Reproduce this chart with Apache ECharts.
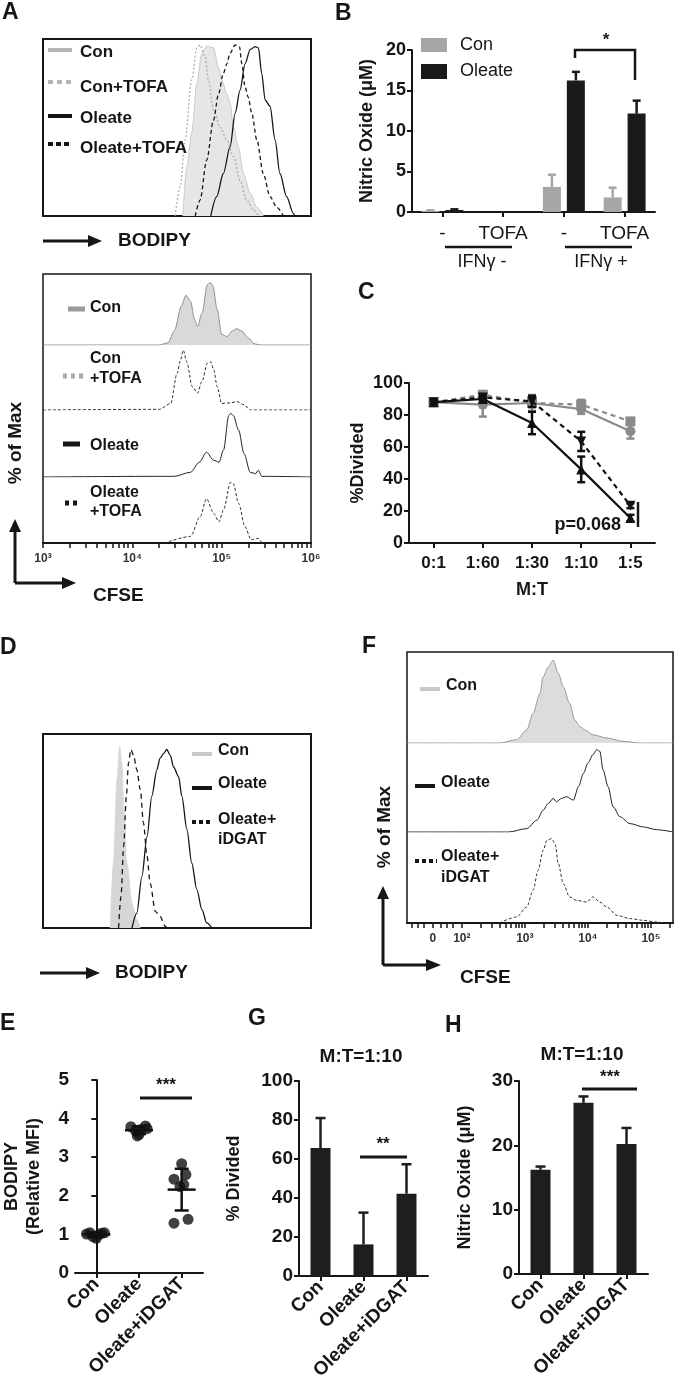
<!DOCTYPE html>
<html>
<head>
<meta charset="utf-8">
<script src="https://cdn.jsdelivr.net/npm/echarts@6/dist/echarts.min.js"></script>
<style>
html, body { margin: 0; padding: 0; background: #fff; }
#chart { width: 675px; height: 1395px; }
</style>
</head>
<body>
<div id="chart"></div>
<script>
// ---------- data ----------
// A (top): BODIPY histograms, [channel 0-100, % of max]
var bodipyA_con = [[52.2,0],[53.7,28],[55.5,47],[57.4,75],[59.3,92],[61.1,96],[63.6,95],[65.5,84],[66.7,77],[68.6,69],[69.8,64],[71.1,50],[72.9,39],[74.8,24],[77.3,13],[79.8,5],[82.2,0]];
var bodipyA_conTofa = [[49.3,0],[51.2,16.6],[53.0,43],[55.5,77],[57.4,95],[58.6,96.6],[60.5,90],[61.7,77],[63.6,60],[66.1,50],[68.6,43],[71.1,33.5],[73.5,20],[76.0,9],[78.5,3.4],[80.4,0]];
var bodipyA_oleTofa = [[56.8,0],[58.6,9],[61.1,31.6],[63.6,54],[65.5,69],[67.3,80.6],[68.6,86],[69.8,92],[71.7,96.6],[73.3,95.7],[74.2,86],[75.4,73],[76.6,67],[77.9,58],[79.8,43],[82.2,24],[84.7,11],[87.2,5],[89.7,0]];
var bodipyA_oleate = [[62.6,0],[64.8,11],[67.3,24],[69.8,39],[71.7,58],[73.5,71],[75.4,86],[77.3,94],[79.1,95.7],[80.4,95],[81.6,80.6],[82.9,65.5],[84.7,62],[86.6,43],[88.4,24],[90.9,11],[93.4,1.5],[94.0,0]];

// A (bottom): CFSE histograms, [log10 CFSE, % of max]
var cfseA_con = [[3,0],[4.30,0],[4.40,3],[4.47,20],[4.55,55],[4.60,70],[4.65,62],[4.70,35],[4.73,26],[4.78,45],[4.84,85],[4.87,88],[4.90,84],[4.95,50],[5.00,15],[5.06,12],[5.12,20],[5.17,23],[5.22,20],[5.30,10],[5.36,2],[5.43,0],[6,0]];
var cfseA_conTofa = [[3,0],[4.30,1],[4.43,10],[4.50,56],[4.54,77],[4.57,92],[4.61,74],[4.67,36],[4.73,26],[4.78,44],[4.84,72],[4.88,74],[4.91,62],[4.95,36],[5.00,10],[5.10,11],[5.17,13],[5.25,8],[5.32,0],[6,0]];
var cfseA_oleate = [[3,0],[4.30,1],[4.47,1],[4.65,7],[4.75,22],[4.83,37],[4.91,25],[4.97,22],[5.02,40],[5.08,92],[5.10,95],[5.13,92],[5.19,70],[5.25,35],[5.32,7],[5.38,5],[5.41,10],[5.45,1],[6,0]];
var cfseA_oleTofa = [[4.41,2],[4.65,10],[4.76,40],[4.83,67],[4.91,45],[4.97,32],[5.02,50],[5.10,92],[5.13,90],[5.19,60],[5.26,25],[5.33,5],[5.41,7],[5.45,0]];
var cfseTicksA = [3, 4, 5, 6];
var cfseLabelsA = ['10³', '10⁴', '10⁵', '10⁶'];
var cfseMinorA = [3.30,3.48,3.60,3.70,3.78,3.85,3.90,3.95,4.30,4.48,4.60,4.70,4.78,4.85,4.90,4.95,5.30,5.48,5.60,5.70,5.78,5.85,5.90,5.95];

// B: nitric oxide
var bLabels = ['-', 'TOFA', '-', 'TOFA'];
var bCon = [0.15, 0, 3.1, 1.8];
var bConErr = [0.05, 0, 1.5, 1.2];
var bOleate = [0.25, 0, 16.25, 12.15];
var bOleateErr = [0.08, 0, 1.05, 1.6];

// C: % divided vs M:T
var cCats = ['0:1', '1:60', '1:30', '1:10', '1:5'];
var cCon = [88, 86.5, 87.5, 83.7, 69.8];
var cConErr = [1, 7.5, 2.5, 3, 4.5];
var cConTofa = [88, 92.7, 87.5, 86.5, 76];
var cConTofaErr = [1, 2, 5, 3, 2];
var cOleate = [88, 90, 75, 46, 15.6];
var cOleateErr = [1, 1, 7, 8, 2];
var cOleTofa = [88, 91, 88.5, 63.5, 23.3];
var cOleTofaErr = [1, 1, 3.5, 6, 1.5];

// D: BODIPY histograms
var bodipyD_con = [[25.1,0],[26.3,33.5],[27.6,76.5],[28.6,93.6],[29.4,85],[30.3,59],[31.3,33.5],[33.2,12.9],[35.0,4.3],[36.3,0]];
var bodipyD_oleDgat = [[28.2,0],[29.1,16.3],[30.1,42],[31.1,68],[31.9,85],[32.8,92],[33.8,89],[35.0,81.6],[36.3,71.3],[37.5,54],[38.8,37],[40.0,23],[41.9,8.6],[43.7,6],[45.6,0.9],[46.2,0]];
var bodipyD_oleate = [[33.2,0],[35.0,7.7],[36.9,26.6],[38.8,47],[40.6,68],[42.5,81.6],[43.7,87.6],[45.0,90],[46.2,92],[47.5,89],[48.7,83],[50.6,78],[51.8,68],[53.7,50.7],[55.5,33.5],[57.4,19.8],[59.3,9.5],[61.1,2.6],[63.0,0]];

// F: CFSE histograms (biexponential axis units)
var cfseF_con = [[1.13,0],[2.60,0],[2.87,3.6],[3.03,14.5],[3.13,32.7],[3.24,54.5],[3.29,72.7],[3.37,83.6],[3.45,91],[3.53,76.4],[3.61,61.8],[3.71,43.6],[3.79,25.5],[3.87,18.2],[3.95,14.5],[4.08,9],[4.30,5.5],[4.56,1.8],[4.83,0],[5.35,0]];
var cfseF_oleate = [[1.13,0],[2.74,0],[3.03,3.8],[3.19,13.2],[3.29,24.5],[3.37,32],[3.45,37.7],[3.50,34],[3.58,37.7],[3.66,39.6],[3.77,35.8],[3.85,51],[3.93,66],[4.00,77.4],[4.08,86.8],[4.14,92.5],[4.19,90.6],[4.24,69.8],[4.32,51],[4.40,28.3],[4.51,17],[4.67,9.4],[4.88,5.7],[5.09,2.6],[5.35,0]];
var cfseF_oleDgat = [[2.60,0],[2.87,6.6],[3.03,17.6],[3.13,35.9],[3.21,57.9],[3.29,79.9],[3.35,90.8],[3.42,92.7],[3.48,87.2],[3.53,65.2],[3.61,43.2],[3.71,28.6],[3.82,24.9],[3.98,23],[4.08,28.6],[4.19,23],[4.30,17.6],[4.46,8.4],[4.67,4.8],[4.88,2.9],[5.09,1.1],[5.2,0]];
var cfseTicksF = [1.54, 2, 3, 4, 5];
var cfseLabelsF = ['0', '10²', '10³', '10⁴', '10⁵'];
var cfseMinorF = [1.2,1.3,1.4,1.66,1.76,1.86,2.30,2.48,2.60,2.70,2.78,2.85,2.90,2.95,3.30,3.48,3.60,3.70,3.78,3.85,3.90,3.95,4.30,4.48,4.60,4.70,4.78,4.85,4.90,4.95,5.30];

// E: BODIPY relative MFI, individual points
var groupCats = ['Con', 'Oleate', 'Oleate+iDGAT'];
var eConJit = [-0.23, -0.15, -0.08, 0, 0.04, 0.12, 0.19];
var eConVals = [1.01, 1.04, 0.94, 0.9, 0.98, 1.03, 1.04];
var eOleJit = [-0.19, -0.08, 0, 0.04, 0.15, 0.19, -0.04];
var eOleVals = [3.79, 3.68, 3.59, 3.72, 3.81, 3.74, 3.55];
var eDgatJit = [0, 0.1, -0.18, -0.04, 0.05, -0.18, 0.15];
var eDgatVals = [2.83, 2.55, 2.43, 2.24, 2.29, 1.29, 1.39];
var eMean = [1.0, 3.7, 2.16];
var eSD = [0.05, 0.1, 0.54];

// G: % divided at M:T=1:10
var gMean = [65.6, 16.2, 42.2];
var gErr = [15.4, 16.3, 15.1];

// H: nitric oxide at M:T=1:10
var hMean = [16.2, 26.6, 20.2];
var hErr = [0.5, 1.0, 2.5];

// ---------- helpers ----------
var FONT = '"Liberation Sans", Arial, sans-serif';
var INK = '#161616';

function hidden(gi, min, max) {
    return { gridIndex: gi, type: 'value', min: min, max: max, show: false };
}

function valueY(gi, min, max, interval, name, gap, fs, nfs) {
    return {
        gridIndex: gi, type: 'value', min: min, max: max, interval: interval,
        name: name, nameLocation: 'middle', nameGap: gap,
        nameTextStyle: { fontFamily: FONT, fontWeight: 'bold', fontSize: nfs, color: INK, lineHeight: nfs + 4 },
        axisLine: { show: true, lineStyle: { color: INK, width: 2 } },
        axisTick: { show: true, length: 5, lineStyle: { color: INK, width: 2 } },
        axisLabel: { fontFamily: FONT, fontWeight: 'bold', fontSize: fs, color: INK, margin: 6 },
        splitLine: { show: false }
    };
}

function catX(gi, data, label) {
    return {
        gridIndex: gi, type: 'category', data: data, boundaryGap: true,
        axisLine: { show: true, lineStyle: { color: INK, width: 2 } },
        axisTick: { show: true, alignWithLabel: true, length: 5, lineStyle: { color: INK, width: 2 } },
        axisLabel: Object.assign({ interval: 0, fontFamily: FONT, color: INK }, label),
        splitLine: { show: false }
    };
}

function cfseX(gi, min, max, majors, minors, labels) {
    return {
        gridIndex: gi, type: 'value', min: min, max: max,
        axisLine: { show: true, lineStyle: { color: INK, width: 2 } },
        axisTick: { show: true, customValues: majors.concat(minors), length: 5, lineStyle: { color: INK, width: 1.5 } },
        axisLabel: {
            customValues: majors, margin: 10, fontFamily: FONT, fontWeight: 'bold', fontSize: 12, color: '#333',
            formatter: function (v) { return labels[majors.indexOf(v)]; }
        },
        splitLine: { show: false }
    };
}

function hist(gi, data, color, width, dash, fill) {
    var s = {
        type: 'line', xAxisIndex: gi, yAxisIndex: gi, data: data,
        symbol: 'none', smooth: 0.3, smoothMonotone: 'x', silent: true,
        lineStyle: { color: color, width: width, type: dash || 'solid' }
    };
    if (fill) s.areaStyle = { color: fill, opacity: 1 };
    return s;
}

function errBars(xi, yi, vals, errs, color, offset, capHalf, both) {
    return {
        type: 'custom', xAxisIndex: xi, yAxisIndex: yi, silent: true, z: 5,
        data: vals.map(function (v, i) { return [i, v, errs[i]]; }),
        renderItem: function (params, api) {
            var i = api.value(0), v = api.value(1), e = api.value(2);
            if (!e) return null;
            var top = api.coord([i, v + e]);
            var base = api.coord([i, both ? v - e : v]);
            var x = top[0] + offset;
            var st = { stroke: color, lineWidth: 2.5 };
            var ch = [
                { type: 'line', shape: { x1: x, y1: base[1], x2: x, y2: top[1] }, style: st },
                { type: 'line', shape: { x1: x - capHalf, y1: top[1], x2: x + capHalf, y2: top[1] }, style: st }
            ];
            if (both) ch.push({ type: 'line', shape: { x1: x - capHalf, y1: base[1], x2: x + capHalf, y2: base[1] }, style: st });
            return { type: 'group', children: ch };
        }
    };
}

function dots(jit, vals, idx) {
    return vals.map(function (v, i) { return [idx + jit[i], v]; });
}

function T(x, y, text, size, o) {
    o = o || {};
    return {
        type: 'text', x: x, y: y, rotation: o.rot || 0, z: 100,
        style: { text: text, fill: o.color || INK, font: (o.weight || 'bold') + ' ' + size + 'px ' + FONT, align: o.align || 'left', verticalAlign: 'middle' }
    };
}
function L(x1, y1, x2, y2, o) {
    o = o || {};
    return { type: 'line', z: 100, shape: { x1: x1, y1: y1, x2: x2, y2: y2 }, style: { stroke: o.color || INK, lineWidth: o.w || 2.5, lineDash: o.dash || null } };
}
function P(points) {
    return { type: 'polygon', z: 100, shape: { points: points }, style: { fill: INK } };
}

// ---------- option ----------
var catLabel = { rotate: 45, fontSize: 19, fontWeight: 'bold', margin: 8 };

var option = {
    animation: false,
    backgroundColor: '#fff',
    textStyle: { fontFamily: FONT },
    grid: [
        { left: 43, top: 39, width: 268, height: 177, show: true, borderColor: INK, borderWidth: 2 },    // 0 A top
        { left: 43, top: 274, width: 268, height: 269, show: true, borderColor: INK, borderWidth: 1.5 }, // 1 A cfse frame
        { left: 43, top: 274, width: 268, height: 71 },
        { left: 43, top: 345, width: 268, height: 65 },
        { left: 43, top: 410, width: 268, height: 67 },
        { left: 43, top: 477, width: 268, height: 66 },
        { left: 412, top: 50, width: 243, height: 162 },   // 6 B
        { left: 409, top: 383, width: 246, height: 160 },  // 7 C
        { left: 43, top: 734, width: 268, height: 194, show: true, borderColor: INK, borderWidth: 2 },   // 8 D
        { left: 407, top: 652, width: 266, height: 271, show: true, borderColor: INK, borderWidth: 1.5 }, // 9 F frame
        { left: 407, top: 652, width: 266, height: 91 },
        { left: 407, top: 743, width: 266, height: 89 },
        { left: 407, top: 832, width: 266, height: 91 },
        { left: 73, top: 1080, width: 130, height: 193 },  // 13 E
        { left: 299, top: 1081, width: 129, height: 195 }, // 14 G
        { left: 519, top: 1081, width: 129, height: 193 }  // 15 H
    ],
    xAxis: [
        hidden(0, 0, 100),
        cfseX(1, 3, 6, cfseTicksA, cfseMinorA, cfseLabelsA),
        hidden(2, 3, 6), hidden(3, 3, 6), hidden(4, 3, 6), hidden(5, 3, 6),
        (function () {
            var a = catX(6, ['0', '1', '2', '3'], { fontSize: 19, fontWeight: 'normal', margin: 12 });
            a.axisLabel.formatter = function (v, i) { return bLabels[i]; };
            return a;
        })(),
        Object.assign(catX(7, cCats, { fontSize: 17, fontWeight: 'bold', margin: 12 }), {
            name: 'M:T', nameLocation: 'middle', nameGap: 38,
            nameTextStyle: { fontFamily: FONT, fontWeight: 'bold', fontSize: 18, color: INK }
        }),
        hidden(8, 0, 100),
        cfseX(9, 1.13, 5.35, cfseTicksF, cfseMinorF, cfseLabelsF),
        hidden(10, 1.13, 5.35), hidden(11, 1.13, 5.35), hidden(12, 1.13, 5.35),
        catX(13, groupCats, catLabel),
        catX(14, groupCats, catLabel),
        catX(15, groupCats, catLabel),
        hidden(13, -0.5, 2.5) // 16: jitter axis for E points
    ],
    yAxis: [
        hidden(0, 0, 100),
        hidden(1, 0, 1),
        hidden(2, 0, 100), hidden(3, 0, 100), hidden(4, 0, 100), hidden(5, 0, 100),
        valueY(6, 0, 20, 5, 'Nitric Oxide (μM)', 34, 18, 18),
        valueY(7, 0, 100, 20, '%Divided', 35, 18, 18),
        hidden(8, 0, 100),
        hidden(9, 0, 1),
        hidden(10, 0, 100), hidden(11, 0, 100), hidden(12, 0, 100),
        valueY(13, 0, 5, 1, 'BODIPY\n(Relative MFI)', 30, 19, 18),
        valueY(14, 0, 100, 20, '% Divided', 54, 19, 18),
        valueY(15, 0, 30, 10, 'Nitric Oxide (μM)', 43, 19, 18)
    ],
    series: [
        // A top
        hist(0, bodipyA_con, '#c9c9c9', 1, 'solid', '#e6e6e6'),
        hist(0, bodipyA_conTofa, '#a8a8a8', 1.2, [2, 2]),
        hist(0, bodipyA_oleTofa, INK, 1.3, [4, 3]),
        hist(0, bodipyA_oleate, INK, 1.3),
        // A cfse rows
        hist(2, cfseA_con, '#8f8f8f', 1, 'solid', '#d9d9d9'),
        hist(3, cfseA_conTofa, '#333', 1, [3, 2]),
        hist(4, cfseA_oleate, '#222', 1),
        hist(5, cfseA_oleTofa, '#333', 1, [3, 2]),
        // B
        { type: 'bar', xAxisIndex: 6, yAxisIndex: 6, data: bCon, barWidth: 18, barGap: '33%', itemStyle: { color: '#a6a6a6' } },
        { type: 'bar', xAxisIndex: 6, yAxisIndex: 6, data: bOleate, barWidth: 18, barGap: '33%', itemStyle: { color: '#1a1a1a' } },
        errBars(6, 6, bCon, bConErr, '#a6a6a6', -12, 4, false),
        errBars(6, 6, bOleate, bOleateErr, '#1a1a1a', 12, 4, false),
        // C
        { type: 'line', xAxisIndex: 7, yAxisIndex: 7, data: cCon, symbol: 'circle', symbolSize: 10, itemStyle: { color: '#8a8a8a' }, lineStyle: { color: '#8a8a8a', width: 2.2 } },
        { type: 'line', xAxisIndex: 7, yAxisIndex: 7, data: cConTofa, symbol: 'rect', symbolSize: 10, itemStyle: { color: '#8a8a8a' }, lineStyle: { color: '#8a8a8a', width: 2.2, type: [5, 4] } },
        errBars(7, 7, cCon, cConErr, '#8a8a8a', 0, 4, true),
        errBars(7, 7, cConTofa, cConTofaErr, '#8a8a8a', 0, 4, true),
        { type: 'line', xAxisIndex: 7, yAxisIndex: 7, data: cOleate, symbol: 'triangle', symbolSize: 10, itemStyle: { color: '#111' }, lineStyle: { color: '#111', width: 2.2 }, z: 6 },
        { type: 'line', xAxisIndex: 7, yAxisIndex: 7, data: cOleTofa, symbol: 'triangle', symbolRotate: 180, symbolSize: 10, itemStyle: { color: '#111' }, lineStyle: { color: '#111', width: 2.2, type: [5, 4] }, z: 6 },
        errBars(7, 7, cOleate, cOleateErr, '#111', 0, 4, true),
        errBars(7, 7, cOleTofa, cOleTofaErr, '#111', 0, 4, true),
        // D
        hist(8, bodipyD_con, '#d6d6d6', 0.8, 'solid', '#d6d6d6'),
        hist(8, bodipyD_oleDgat, INK, 1.3, [5, 4]),
        hist(8, bodipyD_oleate, INK, 1.3),
        // F rows
        hist(10, cfseF_con, '#9a9a9a', 1, 'solid', '#dcdcdc'),
        hist(11, cfseF_oleate, '#222', 1),
        hist(12, cfseF_oleDgat, '#333', 1, [3, 2]),
        // E
        { type: 'scatter', xAxisIndex: 16, yAxisIndex: 13, data: dots(eConJit, eConVals, 0), symbolSize: 11, itemStyle: { color: '#111' } },
        { type: 'scatter', xAxisIndex: 16, yAxisIndex: 13, data: dots(eOleJit, eOleVals, 1), symbolSize: 11, itemStyle: { color: '#111' } },
        { type: 'scatter', xAxisIndex: 16, yAxisIndex: 13, data: dots(eDgatJit, eDgatVals, 2), symbolSize: 11, itemStyle: { color: '#111' } },
        {
            type: 'custom', xAxisIndex: 16, yAxisIndex: 13, silent: true, z: 6,
            data: eMean.map(function (m, i) { return [i, m, eSD[i]]; }),
            renderItem: function (params, api) {
                var c = api.coord([api.value(0), api.value(1)]);
                var hi = api.coord([api.value(0), api.value(1) + api.value(2)]);
                var lo = api.coord([api.value(0), api.value(1) - api.value(2)]);
                var st = { stroke: '#111', lineWidth: 2.5 };
                return { type: 'group', children: [
                    { type: 'line', shape: { x1: c[0] - 14, y1: c[1], x2: c[0] + 14, y2: c[1] }, style: st },
                    { type: 'line', shape: { x1: c[0], y1: hi[1], x2: c[0], y2: lo[1] }, style: st },
                    { type: 'line', shape: { x1: c[0] - 7, y1: hi[1], x2: c[0] + 7, y2: hi[1] }, style: st },
                    { type: 'line', shape: { x1: c[0] - 7, y1: lo[1], x2: c[0] + 7, y2: lo[1] }, style: st }
                ] };
            }
        },
        // G
        { type: 'bar', xAxisIndex: 14, yAxisIndex: 14, data: gMean, barWidth: 20, itemStyle: { color: '#1e1e1e' } },
        errBars(14, 14, gMean, gErr, '#1e1e1e', 0, 5, false),
        // H
        { type: 'bar', xAxisIndex: 15, yAxisIndex: 15, data: hMean, barWidth: 20, itemStyle: { color: '#1e1e1e' } },
        errBars(15, 15, hMean, hErr, '#1e1e1e', 0, 5, false)
    ],
    graphic: {
        elements: [
            // panel letters
            T(2, 13, 'A', 23), T(335, 14, 'B', 23), T(358, 293, 'C', 23), T(0, 648, 'D', 23),
            T(362, 647, 'F', 23), T(0, 1024, 'E', 23), T(248, 1019, 'G', 23), T(445, 1026, 'H', 23),

            // A top legend + axis arrow
            L(48, 50, 72, 50, { color: '#b4b4b4', w: 4 }), T(80, 52, 'Con', 17),
            L(48, 82, 72, 82, { color: '#b4b4b4', w: 4, dash: [5, 4] }), T(80, 87, 'Con+TOFA', 17),
            L(48, 116, 72, 116, { w: 4 }), T(80, 118, 'Oleate', 17),
            L(48, 144, 72, 144, { w: 4, dash: [5, 3] }), T(80, 148, 'Oleate+TOFA', 17),
            L(43, 241, 90, 241, { w: 3 }), P([[88, 235], [102, 241], [88, 247]]), T(118, 241, 'BODIPY', 19),

            // A cfse legend + arrows
            L(68, 309, 85, 309, { color: '#9a9a9a', w: 5 }), T(90, 308, 'Con', 16),
            L(63, 376, 85, 376, { color: '#aaaaaa', w: 5, dash: [4, 4] }), T(90, 359, 'Con', 16), T(90, 379, '+TOFA', 16),
            L(63, 444, 80, 444, { w: 5 }), T(90, 446, 'Oleate', 16),
            L(65, 503, 80, 503, { w: 5, dash: [4, 4] }), T(90, 493, 'Oleate', 16), T(90, 512, '+TOFA', 16),
            T(16, 443, '% of Max', 19, { rot: Math.PI / 2, align: 'center' }),
            L(15, 583, 15, 530, { w: 3 }), P([[9, 532], [15, 519], [21, 532]]),
            L(15, 583, 64, 583, { w: 3 }), P([[62, 577], [76, 583], [62, 589]]),
            T(93, 596, 'CFSE', 19),

            // B legend + annotations
            { type: 'rect', z: 100, shape: { x: 421, y: 38, width: 26, height: 14 }, style: { fill: '#a6a6a6' } },
            { type: 'rect', z: 100, shape: { x: 421, y: 64, width: 26, height: 15 }, style: { fill: '#1a1a1a' } },
            T(460, 45, 'Con', 18, { weight: 'normal' }), T(460, 71, 'Oleate', 18, { weight: 'normal' }),
            { type: 'polyline', z: 100, shape: { points: [[575, 58], [575, 50], [635, 50], [635, 80]] }, style: { stroke: INK, lineWidth: 2.5, fill: null } },
            T(606, 40, '*', 17, { align: 'center' }),
            L(445, 247, 512, 247), L(565, 247, 632, 247),
            T(482, 262, 'IFNγ -', 18, { weight: 'normal', align: 'center' }),
            T(601, 262, 'IFNγ +', 18, { weight: 'normal', align: 'center' }),

            // C annotation
            T(621, 525, 'p=0.068', 18, { align: 'right' }), L(638, 502, 638, 527),

            // D legend + arrow
            L(192, 754, 212, 754, { color: '#c8c8c8', w: 4 }), T(218, 751, 'Con', 16),
            L(192, 788, 212, 788, { w: 4 }), T(218, 784, 'Oleate', 16),
            L(192, 822, 213, 822, { w: 4, dash: [4, 3] }), T(218, 820, 'Oleate+', 16), T(218, 840, 'iDGAT', 16),
            L(40, 973, 88, 973, { w: 3 }), P([[86, 967], [100, 973], [86, 979]]), T(115, 973, 'BODIPY', 19),

            // F legend + arrows
            L(420, 689, 440, 689, { color: '#c8c8c8', w: 4 }), T(446, 686, 'Con', 16),
            L(415, 786, 435, 786, { w: 4 }), T(441, 783, 'Oleate', 16),
            L(415, 861, 437, 861, { w: 4, dash: [4, 3] }), T(441, 857, 'Oleate+', 16), T(441, 878, 'iDGAT', 16),
            T(385, 827, '% of Max', 19, { rot: Math.PI / 2, align: 'center' }),
            L(383, 965, 383, 897, { w: 3 }), P([[377, 899], [383, 886], [389, 899]]),
            L(383, 965, 428, 965, { w: 3 }), P([[426, 959], [441, 965], [426, 971]]),
            T(460, 978, 'CFSE', 19),

            // E / G / H annotations
            L(140, 1098, 192, 1098, { w: 3 }), T(166, 1085, '***', 17, { align: 'center' }),
            L(360, 1157, 407, 1157, { w: 3 }), T(383, 1144, '**', 17, { align: 'center' }),
            T(361, 1057, 'M:T=1:10', 19, { align: 'center' }),
            L(582, 1089, 637, 1089, { w: 3 }), T(610, 1077, '***', 17, { align: 'center' }),
            T(582, 1055, 'M:T=1:10', 19, { align: 'center' })
        ]
    }
};

var chart = echarts.init(document.getElementById('chart'), null, { renderer: 'canvas' });
chart.setOption(option);
</script>
</body>
</html>
